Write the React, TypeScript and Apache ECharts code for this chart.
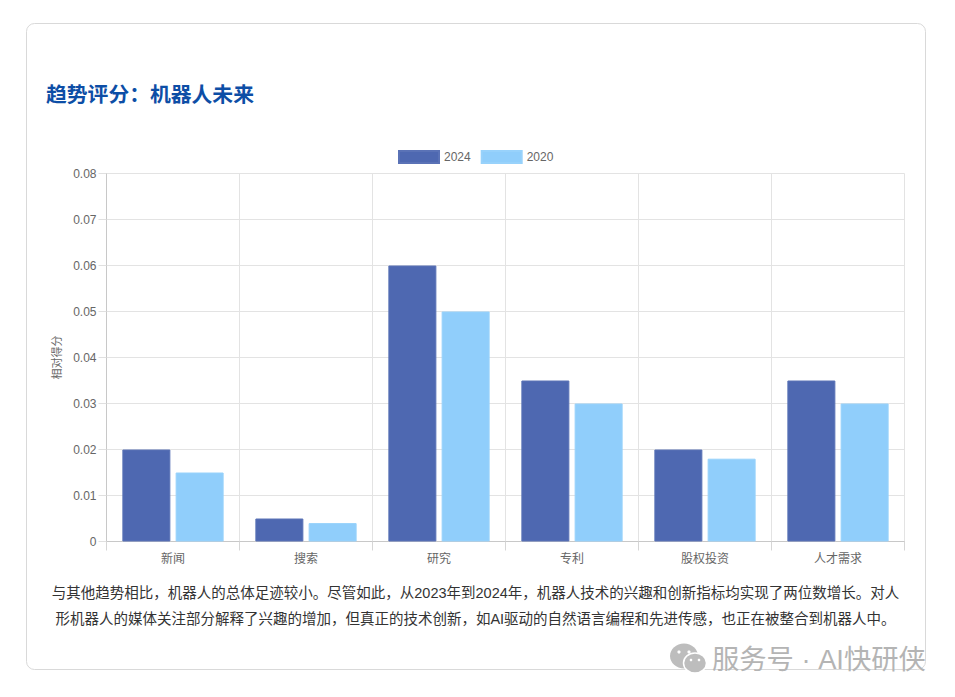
import React, { useEffect, useRef } from "react";
import * as echarts from "echarts";

const categories = ["新闻", "搜索", "研究", "专利", "股权投资", "人才需求"];
const values2024 = [0.02, 0.005, 0.06, 0.035, 0.02, 0.035];
const values2020 = [0.015, 0.004, 0.05, 0.03, 0.018, 0.03];
const titleText = "趋势评分：机器人未来";
const yAxisName = "相对得分";
const bodyLines = [
  "与其他趋势相比，机器人的总体足迹较小。尽管如此，从2023年到2024年，机器人技术的兴趣和创新指标均实现了两位数增长。对人",
  "形机器人的媒体关注部分解释了兴趣的增加，但真正的技术创新，如AI驱动的自然语言编程和先进传感，也正在被整合到机器人中。",
];
const watermark = "服务号 · AI快研侠";

const FONT = '"Liberation Sans", "Noto Sans CJK SC", sans-serif';

export default function App() {
  const ref = useRef<HTMLDivElement>(null);
  useEffect(() => {
    const chart = echarts.init(ref.current!, undefined, { renderer: "svg" });
    chart.setOption({
      animation: false,
      backgroundColor: "#ffffff",
      textStyle: { fontFamily: FONT },
      title: {
        text: titleText,
        left: 46,
        top: 84,
        padding: 0,
        textStyle: { fontSize: 20.8, fontWeight: "bold", color: "#0d4ea6", fontFamily: FONT },
      },
      legend: {
        top: 150,
        left: 398,
        itemWidth: 40,
        itemHeight: 12,
        itemGap: 10,
        icon: "rect",
        textStyle: { fontSize: 12, color: "#666666", fontFamily: FONT, padding: 0 },
        padding: 0,
        data: ["2024", "2020"],
      },
      grid: { left: 106.5, right: 50.5, top: 173.5, bottom: 155.5, containLabel: false },
      xAxis: {
        type: "category",
        data: categories,
        boundaryGap: true,
        axisLine: { show: true, lineStyle: { color: "#c8c8c8", width: 1 } },
        axisTick: { show: true, length: 9, alignWithLabel: false, lineStyle: { color: "#d6d6d6" } },
        axisLabel: { color: "#666666", fontSize: 12, margin: 11, fontFamily: FONT },
        splitLine: { show: true, lineStyle: { color: "#e3e3e3", width: 1 } },
      },
      yAxis: {
        type: "value",
        min: 0,
        max: 0.08,
        interval: 0.01,
        name: yAxisName,
        nameLocation: "middle",
        nameGap: 42,
        nameRotate: 90,
        nameTextStyle: { color: "#666666", fontSize: 11, fontFamily: FONT },
        axisLine: { show: true, lineStyle: { color: "#c8c8c8", width: 1 } },
        axisTick: { show: true, length: 8, lineStyle: { color: "#e0e0e0" } },
        axisLabel: {
          color: "#666666",
          fontSize: 12,
          margin: 10,
          fontFamily: FONT,
          formatter: (v: number) => (v === 0 ? "0" : v.toFixed(2)),
        },
        splitLine: { show: true, lineStyle: { color: "#e3e3e3", width: 1 } },
      },
      series: [
        {
          name: "2024",
          type: "bar",
          data: values2024,
          barWidth: 48,
          barGap: "11%",
          itemStyle: { color: "#4e68b1", borderColor: "#5a72b6", borderWidth: 1 },
          silent: true,
        },
        {
          name: "2020",
          type: "bar",
          data: values2020,
          barWidth: 48,
          itemStyle: { color: "#90cefb", borderColor: "#98d2fb", borderWidth: 1 },
          silent: true,
        },
      ],
      graphic: [
        {
          type: "rect",
          z: -10,
          silent: true,
          shape: { x: 26.5, y: 23.5, width: 899, height: 646, r: 8 },
          style: { fill: "#ffffff", stroke: "#d9d9d9", lineWidth: 1 },
        },
        ...bodyLines.map((t, i) => ({
          type: "text",
          silent: true,
          x: 475.5,
          y: 593 + i * 26,
          style: {
            text: t,
            x: 0,
            y: 0,
            textAlign: "center",
            textVerticalAlign: "middle",
            font: `14.5px ${FONT}`,
            fill: "#333333",
          },
        })),
        {
          type: "group",
          silent: true,
          children: [
            { type: "ellipse", shape: { cx: 684, cy: 656, rx: 14, ry: 12.5 }, style: { fill: "#bdbdbd" } },
            { type: "ellipse", shape: { cx: 695, cy: 663, rx: 11.5, ry: 10 }, style: { fill: "#bdbdbd", stroke: "#ffffff", lineWidth: 1.5 } },
            { type: "circle", shape: { cx: 679, cy: 652, r: 1.6 }, style: { fill: "#ffffff" } },
            { type: "circle", shape: { cx: 689, cy: 652, r: 1.6 }, style: { fill: "#ffffff" } },
            { type: "circle", shape: { cx: 691, cy: 660, r: 1.3 }, style: { fill: "#ffffff" } },
            { type: "circle", shape: { cx: 699, cy: 660, r: 1.3 }, style: { fill: "#ffffff" } },
          ],
        },
        {
          type: "text",
          silent: true,
          x: 712,
          y: 659,
          style: {
            text: watermark,
            textAlign: "left",
            textVerticalAlign: "middle",
            font: `27.3px ${FONT}`,
            fill: "#b4b4b4",
          },
        },
      ],
    });
    return () => chart.dispose();
  }, []);
  return (
    <div
      ref={ref}
      style={{ position: "fixed", left: 0, top: 0, width: 955, height: 697 }}
    />
  );
}
